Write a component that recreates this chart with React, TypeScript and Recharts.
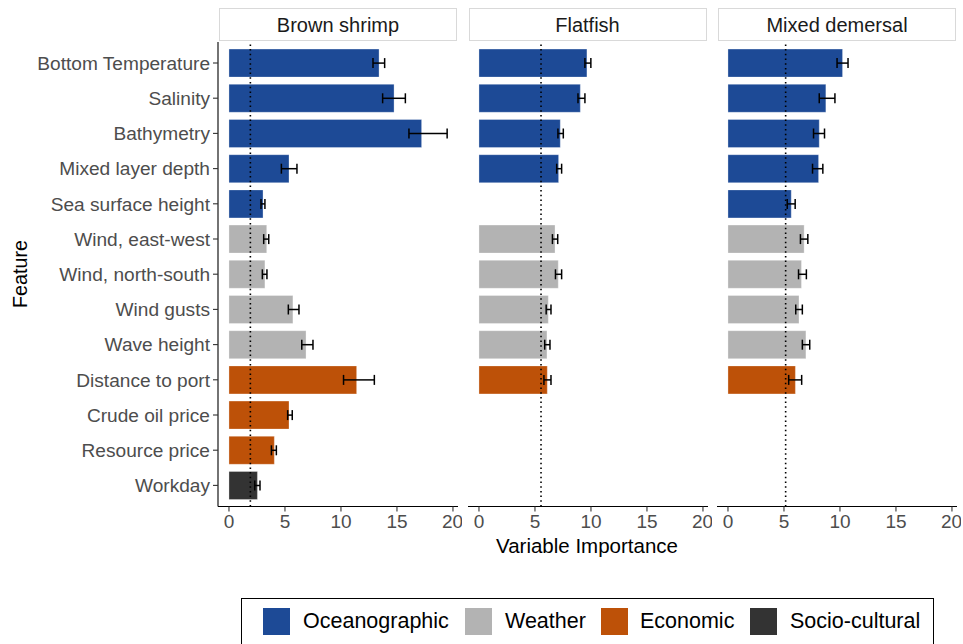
import React from 'react';
import { BarChart, Bar, XAxis, YAxis, ErrorBar, ReferenceLine, Cell } from 'recharts';

const features = [
  'Bottom Temperature', 'Salinity', 'Bathymetry', 'Mixed layer depth', 'Sea surface height',
  'Wind, east-west', 'Wind, north-south', 'Wind gusts', 'Wave height',
  'Distance to port', 'Crude oil price', 'Resource price', 'Workday',
];
const featureGroups = [
  'Oceanographic', 'Oceanographic', 'Oceanographic', 'Oceanographic', 'Oceanographic',
  'Weather', 'Weather', 'Weather', 'Weather',
  'Economic', 'Economic', 'Economic', 'Socio-cultural',
];
const groupNames = ['Oceanographic', 'Weather', 'Economic', 'Socio-cultural'];
const groupColors = ['#1d4a96', '#b3b3b3', '#bd5108', '#333333'];

const panelNames = ['Brown shrimp', 'Flatfish', 'Mixed demersal'];

const shrimpValue = [13.4, 14.74, 17.2, 5.36, 3.04, 3.37, 3.21, 5.71, 6.88, 11.4, 5.36, 4.05, 2.54];
const shrimpLow = [12.86, 13.72, 16.07, 4.68, 2.86, 3.1, 2.98, 5.3, 6.5, 10.23, 5.24, 3.79, 2.3];
const shrimpHigh = [13.9, 15.75, 19.48, 6.07, 3.21, 3.55, 3.39, 6.25, 7.5, 12.98, 5.65, 4.23, 2.77];

const flatValue = [9.64, 9.05, 7.26, 7.11, null, 6.79, 7.08, 6.19, 6.07, 6.1, null, null, null];
const flatLow = [9.46, 8.84, 7.05, 6.94, null, 6.56, 6.83, 6.0, 5.87, 5.8, null, null, null];
const flatHigh = [9.99, 9.46, 7.53, 7.38, null, 7.03, 7.38, 6.43, 6.34, 6.43, null, null, null];

const demersalValue = [10.23, 8.74, 8.15, 8.09, 5.65, 6.8, 6.56, 6.34, 6.96, 6.02, null, null, null];
const demersalLow = [9.74, 8.15, 7.64, 7.55, 5.29, 6.47, 6.3, 6.05, 6.64, 5.42, null, null, null];
const demersalHigh = [10.72, 9.55, 8.62, 8.47, 6.0, 7.13, 7.0, 6.64, 7.3, 6.58, null, null, null];

const thresholds = [1.91, 5.54, 5.15];
const xTicks = [0, 5, 10, 15, 20];

const FONT = '"Liberation Sans", Arial, sans-serif';

function buildRows(values: (number | null)[], lows: (number | null)[], highs: (number | null)[]) {
  return features.map((f, i) => {
    const v = values[i];
    const lo = lows[i];
    const hi = highs[i];
    const row: any = { feature: f, group: featureGroups[i] };
    if (v != null) row.value = v;
    if (v != null && lo != null && hi != null) row.err = [v - lo, hi - v];
    return row;
  });
}

const panelData = [
  buildRows(shrimpValue, shrimpLow, shrimpHigh),
  buildRows(flatValue, flatLow, flatHigh),
  buildRows(demersalValue, demersalLow, demersalHigh),
];

const PLOT_TOP = 41.9;
const PLOT_BOTTOM = 506.5;
const CHART_H = 560;
const XAXIS_H = 32;
const PANEL_W = 240;
const panelLefts = [218, 467.5, 717];

function Panel({ index }: { index: number }) {
  const first = index === 0;
  const yAxisW = first ? 218 : 0;
  const left = first ? 0 : panelLefts[index];
  const width = yAxisW + PANEL_W + 4;
  const rows = panelData[index];
  return (
    <div style={{ position: 'absolute', left, top: 0 }}>
      <BarChart
        width={width}
        height={CHART_H}
        data={rows}
        layout="vertical"
        margin={{ top: PLOT_TOP, right: 4, left: 0, bottom: CHART_H - PLOT_BOTTOM - XAXIS_H }}
        barCategoryGap="10.5%"
      >
        <XAxis
          type="number"
          domain={[-0.98, 20.45]}
          ticks={xTicks}
          allowDataOverflow
          height={XAXIS_H}
          tickSize={5}
          tickMargin={3}
          axisLine={{ stroke: '#000', strokeWidth: 1.1 }}
          tickLine={{ stroke: '#333', strokeWidth: 1.1 }}
          tick={{ fill: '#4d4d4d', fontSize: 19, fontFamily: FONT }}
        />
        <YAxis
          type="category"
          dataKey="feature"
          hide={!first}
          width={yAxisW}
          padding={{ top: 3.5, bottom: 3.5 }}
          tickSize={5}
          tickMargin={3}
          interval={0}
          axisLine={first ? { stroke: '#000', strokeWidth: 1.1 } : false}
          tickLine={{ stroke: '#333', strokeWidth: 1.1 }}
          tick={{ fill: '#4d4d4d', fontSize: 19.1, fontFamily: FONT }}
        />
        <Bar dataKey="value" isAnimationActive={false} stroke="#ffffff" strokeOpacity={0.3} strokeWidth={1}>
          {rows.map((r, i) => (
            <Cell key={i} fill={groupColors[groupNames.indexOf(r.group)]} />
          ))}
          <ErrorBar dataKey="err" direction="x" width={5} stroke="#000" strokeWidth={1.5} />
        </Bar>
        <ReferenceLine
          x={thresholds[index]}
          stroke="#000"
          strokeWidth={1.6}
          strokeDasharray="1.5 3.2"
        />
      </BarChart>
    </div>
  );
}

export default function App() {
  return (
    <div
      style={{
        position: 'absolute',
        left: 0,
        top: 0,
        width: 963,
        height: 700,
        background: '#fff',
        fontFamily: FONT,
      }}
    >
      {panelNames.map((name, i) => (
        <div
          key={name}
          style={{
            position: 'absolute',
            left: panelLefts[i] + 1,
            top: 8,
            width: PANEL_W - 2,
            height: 33,
            boxSizing: 'border-box',
            border: '1.3px solid #d9d9d9',
            background: '#fff',
            color: '#1a1a1a',
            fontSize: 20,
            display: 'flex',
            alignItems: 'center',
            justifyContent: 'center',
            lineHeight: 1,
          }}
        >
          {name}
        </div>
      ))}
      {panelNames.map((name, i) => (
        <Panel key={name} index={i} />
      ))}
      {panelLefts.slice(1).map((x) => (
        <div
          key={x}
          style={{
            position: 'absolute',
            left: x - 3,
            top: PLOT_TOP + 1,
            width: 7,
            height: PLOT_BOTTOM - PLOT_TOP - 2.5,
            background: '#fff',
          }}
        />
      ))}
      <div
        style={{
          position: 'absolute',
          left: 21,
          top: 274,
          transform: 'translate(-50%, -50%) rotate(-90deg)',
          fontSize: 19.7,
          color: '#000',
          whiteSpace: 'nowrap',
          lineHeight: 1,
        }}
      >
        Feature
      </div>
      <div
        style={{
          position: 'absolute',
          left: 587,
          top: 546,
          transform: 'translate(-50%, -50%)',
          fontSize: 20.5,
          color: '#000',
          whiteSpace: 'nowrap',
          lineHeight: 1,
        }}
      >
        Variable Importance
      </div>
      <div
        style={{
          position: 'absolute',
          left: 241,
          top: 597.5,
          width: 693,
          height: 70,
          boxSizing: 'border-box',
          border: '1.3px solid #000',
        }}
      />
      {groupNames.map((g, i) => {
        const keyX = [263, 465, 601, 750][i];
        const textX = [303, 505, 640, 790][i];
        return (
          <React.Fragment key={g}>
            <div
              style={{
                position: 'absolute',
                left: keyX,
                top: 608,
                width: 27,
                height: 26.5,
                background: groupColors[i],
              }}
            />
            <div
              style={{
                position: 'absolute',
                left: textX,
                top: 621.5,
                transform: 'translateY(-50%)',
                fontSize: 21.5,
                color: '#000',
                whiteSpace: 'nowrap',
                lineHeight: 1,
              }}
            >
              {g}
            </div>
          </React.Fragment>
        );
      })}
    </div>
  );
}
